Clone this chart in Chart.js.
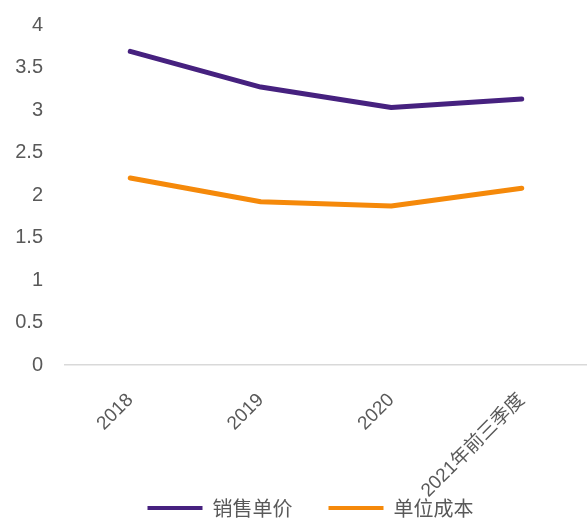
<!DOCTYPE html>
<html>
<head>
<meta charset="utf-8">
<script src="https://cdn.jsdelivr.net/npm/chart.js@4/dist/chart.umd.min.js"></script>
<style>
html,body{margin:0;padding:0;background:#fff;}
#wrap{width:587px;height:521px;position:relative;}
</style>
</head>
<body>
<div id="wrap"><canvas id="c" width="587" height="521"></canvas></div>
<script>
const categories = ['2018', '2019', '2020', '2021年前三季度'];
const seriesNames = ['销售单价', '单位成本'];
const salesPrice = [3.69, 3.27, 3.03, 3.13];
const unitCost = [2.20, 1.92, 1.87, 2.08];
const yTickValues = [0, 0.5, 1, 1.5, 2, 2.5, 3, 3.5, 4];

const numFont = "'Liberation Sans', Arial, 'Noto Sans CJK SC', sans-serif";
const cjkFont = "'Noto Sans CJK SC', 'Liberation Sans', sans-serif";
const textColor = '#595959';

// Move the legend so it overlaps the bottom of the x-axis label area, like the reference
const legendMover = {
  id: 'legendMover',
  afterLayout(chart) {
    const lg = chart.legend;
    if (!lg) return;
    const centerY = 508;
    const pad = lg.options.labels.padding;
    const fs = lg.options.labels.font.size;
    lg.top = centerY - pad - fs / 2;
    lg.bottom = lg.top + 2 * pad + fs;
    lg.height = lg.bottom - lg.top;
    lg.left = 34;
    lg.right = 587;
    lg.width = lg.right - lg.left;
  }
};

new Chart(document.getElementById('c'), {
  type: 'line',
  data: {
    labels: categories,
    datasets: [
      {
        label: seriesNames[0],
        data: salesPrice,
        borderColor: '#46217F',
        backgroundColor: '#46217F',
        borderWidth: 5,
        pointRadius: 0,
        tension: 0,
        borderCapStyle: 'round',
        borderJoinStyle: 'round'
      },
      {
        label: seriesNames[1],
        data: unitCost,
        borderColor: '#F5890A',
        backgroundColor: '#F5890A',
        borderWidth: 5,
        pointRadius: 0,
        tension: 0,
        borderCapStyle: 'round',
        borderJoinStyle: 'round'
      }
    ]
  },
  plugins: [legendMover],
  options: {
    responsive: false,
    animation: false,
    devicePixelRatio: 1,
    layout: { padding: { left: 0, top: 25, right: 0, bottom: 0 } },
    plugins: {
      tooltip: { enabled: false },
      legend: {
        position: 'bottom',
        maxHeight: 1,
        labels: {
          boxWidth: 55,
          boxHeight: 4,
          padding: 36,
          color: textColor,
          font: { family: cjkFont, size: 20 },
          generateLabels: function(chart) {
            return Chart.defaults.plugins.legend.labels.generateLabels(chart)
              .map(function(l) { return Object.assign({}, l, { lineWidth: 0 }); });
          }
        }
      }
    },
    scales: {
      x: {
        offset: true,
        grid: { display: false, drawTicks: false },
        border: { display: true, color: '#D9D9D9', width: 1.5 },
        ticks: {
          minRotation: 45,
          maxRotation: 45,
          autoSkip: false,
          padding: 24,
          color: textColor,
          font: { family: numFont, size: 19 }
        },
        afterFit: function(scale) { scale.height = 155; }
      },
      y: {
        min: 0,
        max: 4,
        grid: { display: false, drawTicks: false },
        border: { display: false },
        afterBuildTicks: function(scale) {
          scale.ticks = yTickValues.map(v => ({ value: v }));
        },
        ticks: {
          padding: 22,
          color: textColor,
          font: { family: numFont, size: 20 },
          callback: function(v) { return String(v); }
        },
        afterFit: function(scale) {
          scale.width = 65;
          scale.paddingTop = 0;
          scale.paddingBottom = 0;
        }
      }
    }
  }
});
</script>
</body>
</html>
